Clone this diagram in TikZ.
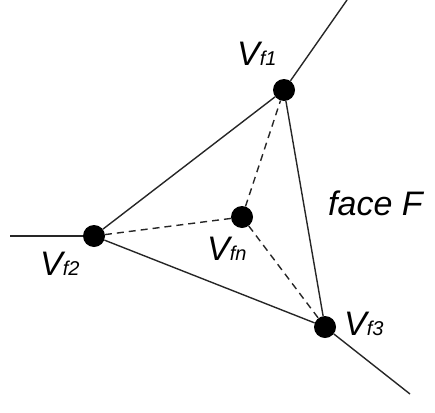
\documentclass[tikz,border=0pt]{standalone}
\usepackage{fontspec}
\setmainfont{Liberation Sans}
\tikzset{
  vdot/.style={circle,fill=black,inner sep=0pt,minimum size=22pt},
  edge/.style={draw=black!85,line width=1.4pt},
  dashedge/.style={draw=black!85,line width=1.4pt,dash pattern=on 7pt off 5pt},
  lab/.style={anchor=base west,inner sep=0pt,font=\itshape\fontsize{34}{40}\selectfont}
}
\newcommand{\vlab}[1]{V{\fontsize{20}{24}\selectfont #1}}
\begin{document}
\begin{tikzpicture}[x=1pt,y=-1pt]
\useasboundingbox (0,0) rectangle (435,412);
\coordinate (e1) at (347,0);
\coordinate (e2) at (10,236);
\coordinate (e3) at (410,394);
\node[vdot] (v1) at (284,90) {};
\node[vdot] (v2) at (94,236) {};
\node[vdot] (v3) at (325,327) {};
\node[vdot] (vn) at (242,217) {};
\draw[edge] (v1) -- (v2);
\draw[edge] (v2) -- (v3);
\draw[edge] (v3) -- (v1);
\draw[edge] (v1) -- (e1);
\draw[edge] (v2) -- (e2);
\draw[edge] (v3) -- (e3);
\draw[dashedge] (vn) -- (v1);
\draw[dashedge] (vn) -- (v2);
\draw[dashedge] (vn) -- (v3);
\node[lab] (l1) at (237,65) {\vlab{f1}};
\node[lab] (l2) at (40,275) {\vlab{f2}};
\node[lab] (ln) at (207,260) {\vlab{fn}};
\node[lab] (l3) at (344,335) {\vlab{f3}};
\node[lab] (face) at (328,215) {face F};
\end{tikzpicture}
\end{document}
